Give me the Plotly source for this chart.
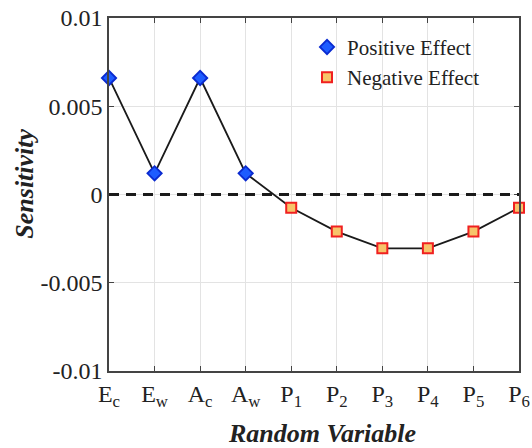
import plotly.graph_objects as go

categories = ["E<sub>c</sub>", "E<sub>w</sub>", "A<sub>c</sub>", "A<sub>w</sub>",
              "P<sub>1</sub>", "P<sub>2</sub>", "P<sub>3</sub>", "P<sub>4</sub>",
              "P<sub>5</sub>", "P<sub>6</sub>"]
sensitivity = [0.0066, 0.0012, 0.0066, 0.0012, -0.00075, -0.0021, -0.00305, -0.00305, -0.0021, -0.00075]
positive_idx = [0, 1, 2, 3]
negative_idx = [4, 5, 6, 7, 8, 9]
ytick_vals = [-0.01, -0.005, 0, 0.005, 0.01]
ytick_text = ["-0.01", "-0.005", "0", "0.005", "0.01"]
x_title = "Random Variable"
y_title = "Sensitivity"

font_family = "Liberation Serif"

fig = go.Figure()
fig.add_hline(y=0, line=dict(color="#1a1a1a", width=3, dash="10px,7px"), layer="above")
fig.add_trace(go.Scatter(x=categories, y=sensitivity, mode="lines",
                         line=dict(color="#1a1a1a", width=1.8), showlegend=False,
                         cliponaxis=False))
fig.add_trace(go.Scatter(x=[categories[i] for i in positive_idx],
                         y=[sensitivity[i] for i in positive_idx],
                         mode="markers", name="Positive Effect",
                         marker=dict(symbol="diamond", size=11, color="#1e5cff",
                                     line=dict(color="#0a2ad0", width=1.8)),
                         cliponaxis=False))
fig.add_trace(go.Scatter(x=[categories[i] for i in negative_idx],
                         y=[sensitivity[i] for i in negative_idx],
                         mode="markers", name="Negative Effect",
                         marker=dict(symbol="square", size=10, color="#f7c46a",
                                     line=dict(color="#f02020", width=2)),
                         cliponaxis=False))

fig.add_annotation(text="<b><i>%s</i></b>" % x_title, xref="paper", yref="paper",
                   x=0.5195, y=-0.178, xanchor="center", yanchor="middle",
                   showarrow=False, font=dict(size=26, family=font_family, color="#222"))
fig.add_annotation(text="<b><i>%s</i></b>" % y_title, xref="paper", yref="paper",
                   x=-0.207, y=0.531, xanchor="center", yanchor="middle", textangle=-90,
                   showarrow=False, font=dict(size=26, family=font_family, color="#222"))

fig.update_layout(
    width=532, height=448,
    margin=dict(l=109, r=13, t=18, b=77),
    paper_bgcolor="white", plot_bgcolor="white",
    font=dict(family=font_family, color="#222", size=20),
    legend=dict(x=0.483, y=0.975, xanchor="left", yanchor="top",
                bgcolor="rgba(0,0,0,0)", font=dict(size=21),
                tracegroupgap=0, itemsizing="trace"),
    xaxis=dict(range=[0, 9], showgrid=True, gridcolor="#e3e3e3", gridwidth=1,
               showline=True, linecolor="#444", linewidth=1.5, mirror="ticks",
               ticks="inside", ticklen=5, tickcolor="#444", automargin=False,
               tickfont=dict(size=24, family=font_family)),
    yaxis=dict(range=[-0.01, 0.01], tickvals=ytick_vals, ticktext=ytick_text,
               showgrid=True, gridcolor="#e3e3e3", gridwidth=1, zeroline=False,
               showline=True, linecolor="#444", linewidth=1.5, mirror="ticks",
               ticks="inside", ticklen=5, tickcolor="#444", automargin=False,
               tickfont=dict(size=24, family=font_family)),
)

fig.write_html("out.html", config={"displayModeBar": False},
               post_script="document.body.style.margin='0';")
